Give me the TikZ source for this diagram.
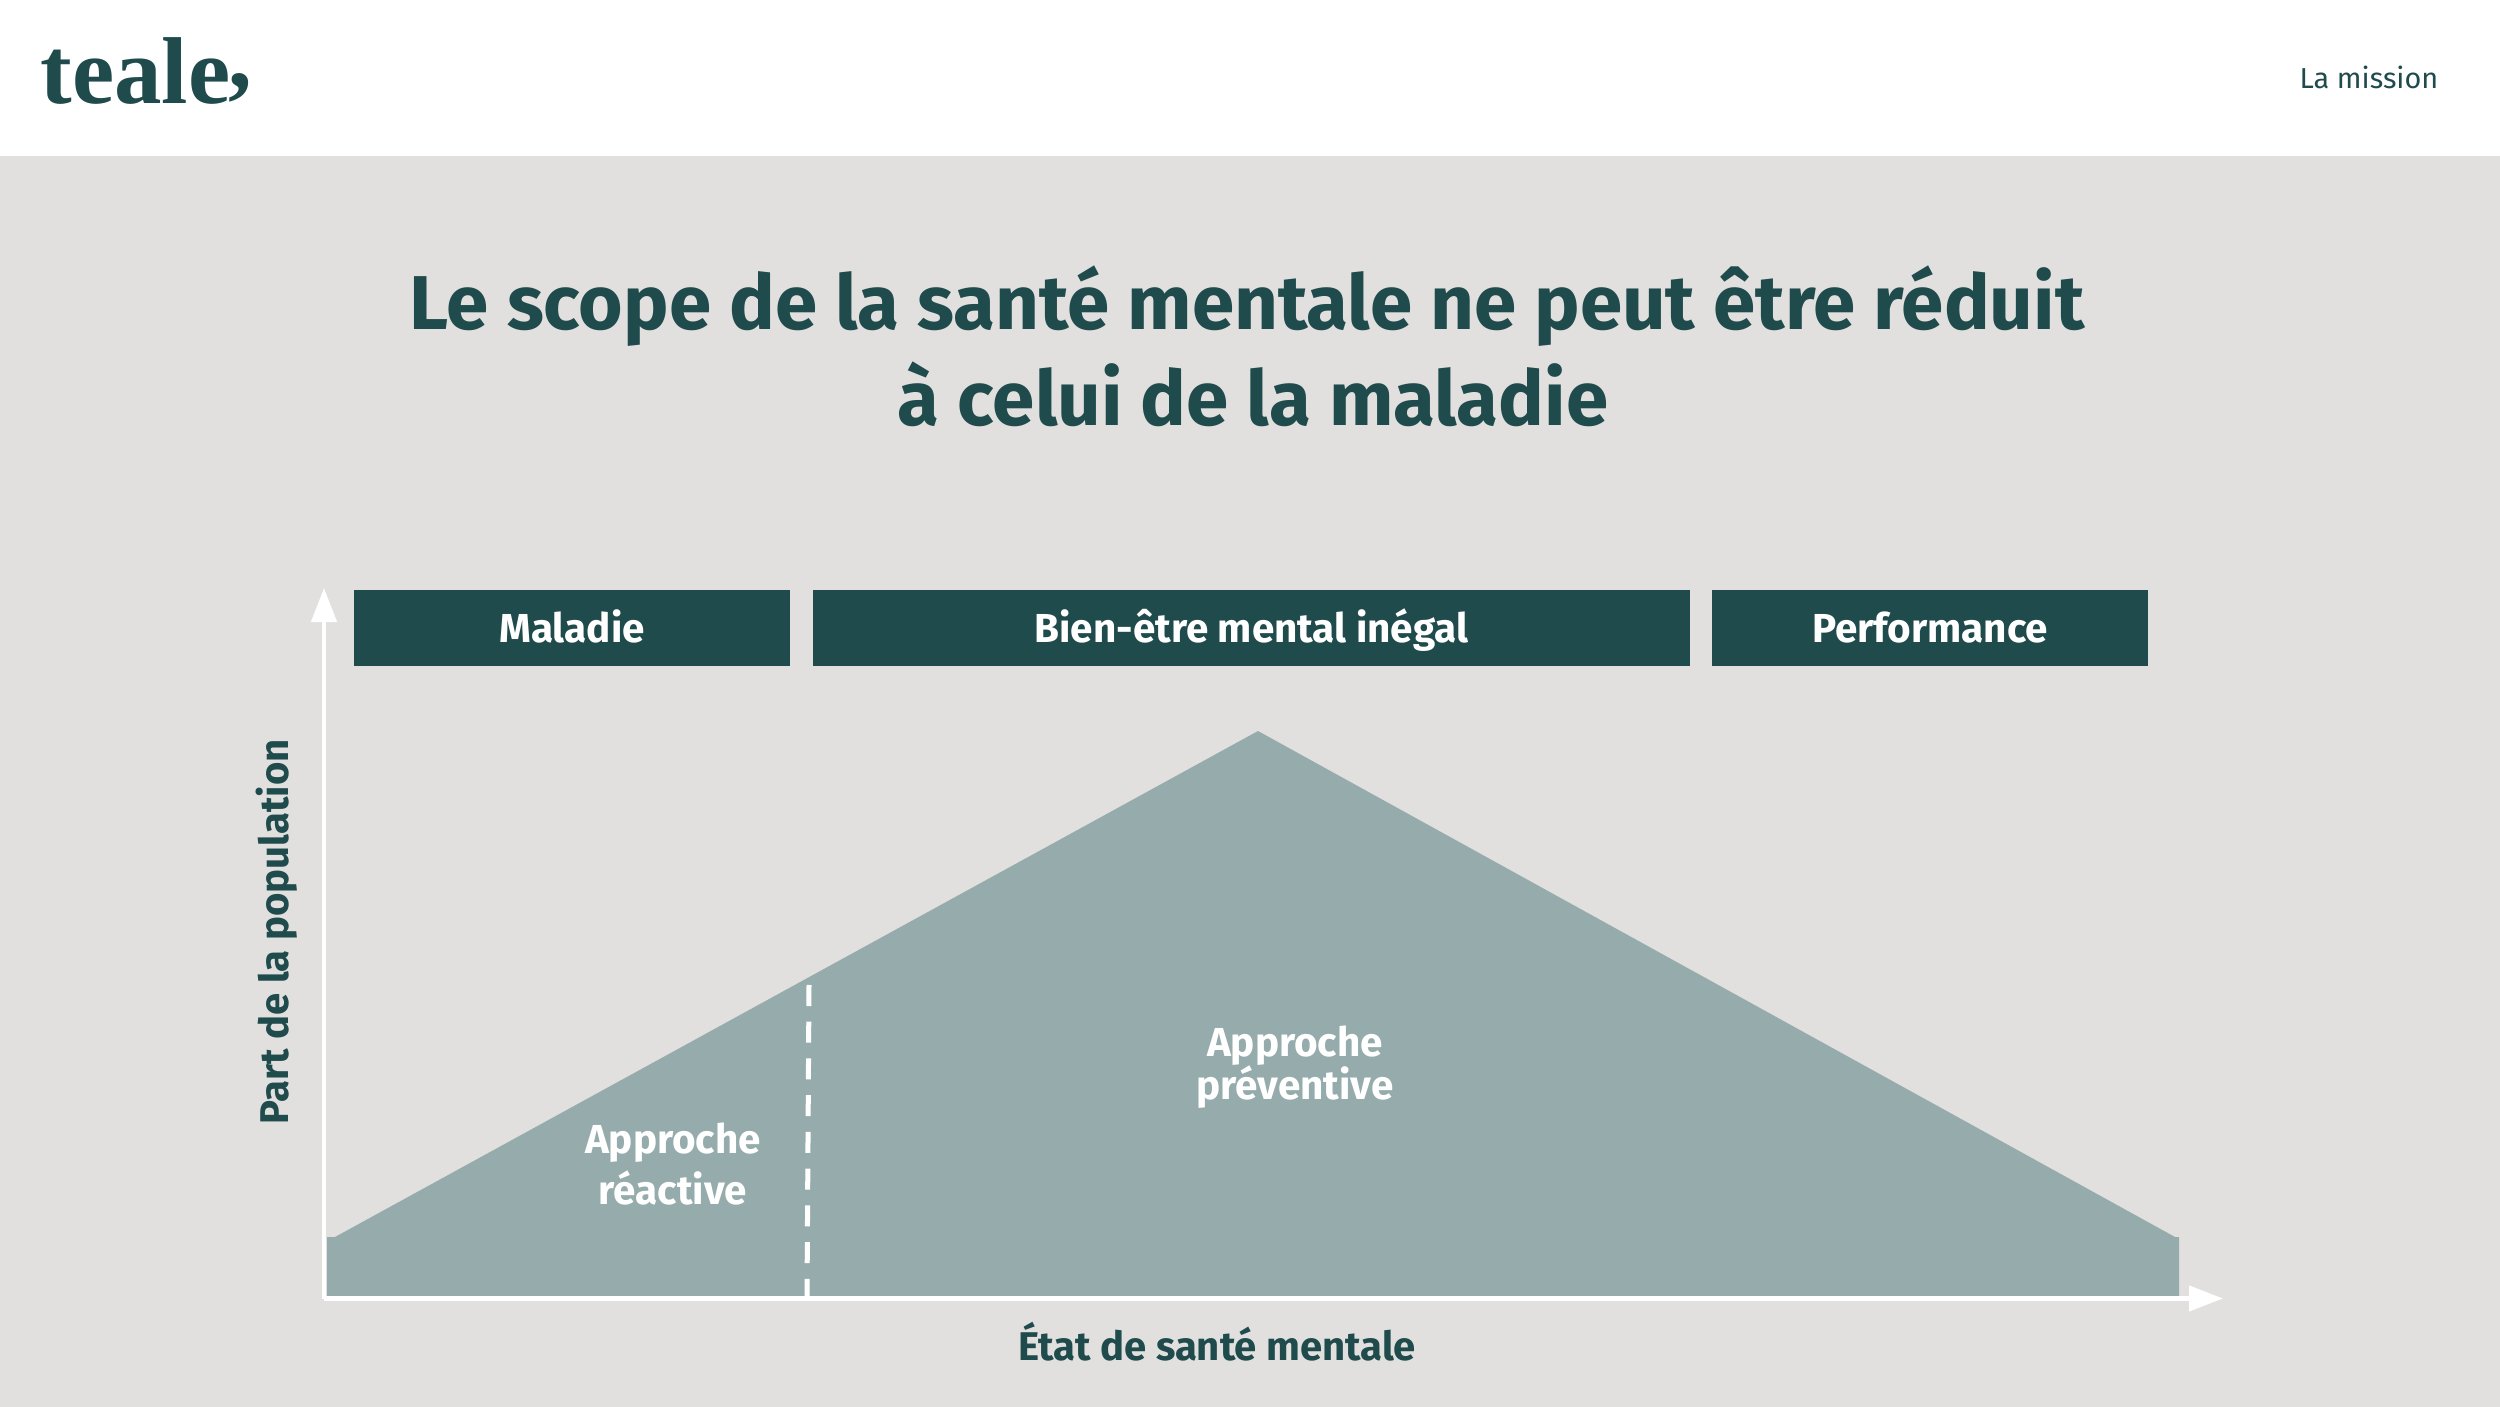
\documentclass[tikz,border=0pt]{standalone}
\usepackage{fontspec}
\usetikzlibrary{arrows.meta}
\setmainfont{Fira Sans}
\newfontfamily\logofont{Liberation Serif}
\definecolor{tealdark}{HTML}{204B4C}
\definecolor{tealsoft}{HTML}{96ACAC}
\definecolor{greybg}{HTML}{E1E0DE}
\tikzset{
    banner/.style={fill=tealdark,text=white,font=\bfseries\fontsize{11.5}{13}\selectfont,minimum height=0.75cm,inner sep=0pt,text height=0.33cm,text depth=0.05cm},
    axislabel/.style={text=tealdark,font=\bfseries\fontsize{11.4}{13}\selectfont},
    approach/.style={text=white,align=center,font=\bfseries\fontsize{11.5}{13}\selectfont},
    axis/.style={white,line width=0.045cm,-{Triangle[length=0.34cm,width=0.25cm]}},
}
\begin{document}
\begin{tikzpicture}[x=0.01cm,y=-0.01cm]
        \useasboundingbox (0,0) rectangle (2500,1407);
        \fill[greybg] (0,0) rectangle (2500,1407);
        \fill[white] (0,0) rectangle (2500,156.5);
        \node[text=tealdark,inner sep=0pt,anchor=base west,font=\logofont\bfseries\fontsize{27}{27}\selectfont] (logo) at (40,104) {teale\kern-0.02em\raisebox{0.17em}{,}};
        \node[text=tealdark,inner sep=0pt,anchor=base east,font=\fontsize{8.2}{10}\selectfont] (section) at (2439,89) {La mission};
        \node[text=tealdark,align=center,inner sep=0pt,font=\bfseries\fontsize{21.7}{27.3}\selectfont] (title) at (1247,346) {Le scope de la santé mentale ne peut être réduit\\\hspace*{0.12cm}à celui de la maladie};
        \node[banner,minimum width=4.36cm] (sick) at (572,628) {Maladie};
        \node[banner,minimum width=8.77cm] (wellbeing) at (1251.5,628) {Bien-être mental inégal};
        \node[banner,minimum width=4.36cm] (perf) at (1930,628) {Performance};
        \fill[tealsoft] (327,1296.5) -- (327,1237) -- (335,1237) -- (1258,731) -- (2175,1237) -- (2179,1237) -- (2179,1296.5) -- cycle; % the population
        \coordinate (origin) at (324,1298.5);
        \coordinate (ytip) at (324,588);
        \coordinate (xtip) at (2223,1298.5);
        \coordinate (cuttop) at (809,985);
        \coordinate (cutbottom) at (807,1297);
        \draw[axis] (origin) -- (ytip);
        \draw[axis] (origin) -- (xtip);
        \draw[white,line width=0.05cm,dash pattern=on 0.21cm off 0.157cm] (cuttop) -- (cutbottom);
        \node[approach] (reactive) at (673,1164) {Approche\\[0.05cm]réactive};
        \node[approach,font=\bfseries\fontsize{11.5}{12.2}\selectfont] (preventive) at (1295,1067) {Approche\\préventive};
        \node[axislabel,rotate=90] (ylabel) at (277,932) {Part de la population};
        \node[axislabel] (xlabel) at (1217,1342) {État de santé mentale};
    \end{tikzpicture}
\end{document}
